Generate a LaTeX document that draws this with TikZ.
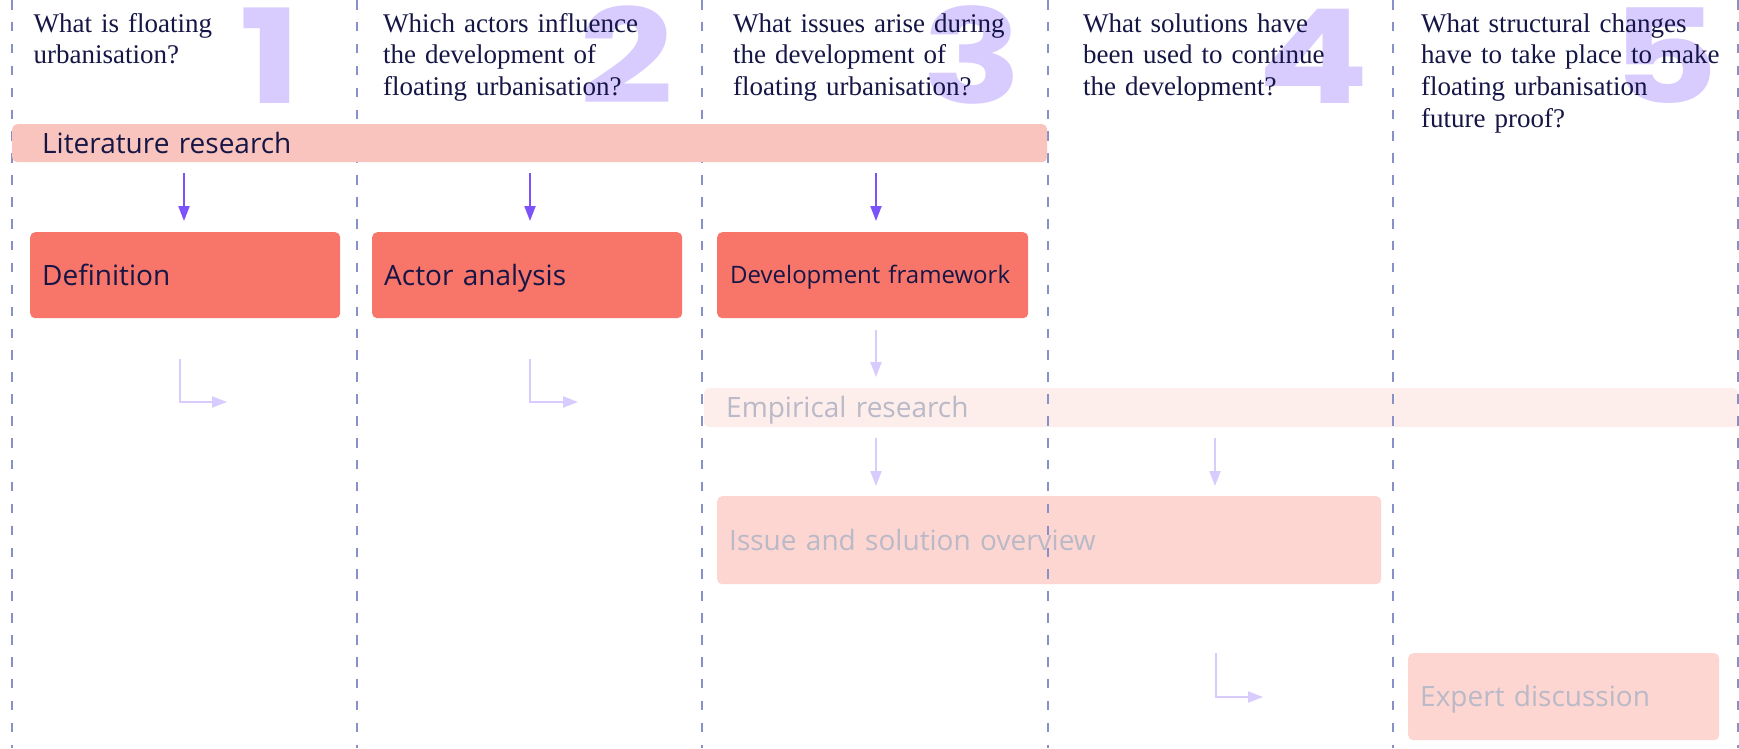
\documentclass[tikz,border=0pt]{standalone}
\usepackage{fontspec}
\usetikzlibrary{arrows.meta,positioning}
\newfontfamily\boxfont{Open Sans}
\newfontfamily\numfont{Poppins}
\newfontfamily\domfont{Liberation Serif}

\definecolor{navy}{RGB}{22,22,70}
\definecolor{griglia}{RGB}{136,144,200}
\definecolor{rosa}{RGB}{249,196,189}
\definecolor{corallo}{RGB}{248,117,105}
\definecolor{viola}{RGB}{124,82,250}
\definecolor{lilla}{RGB}{216,204,255}

\tikzset{
  cifra/.style={anchor=base, inner sep=0pt, text=lilla,
    font=\numfont\bfseries\fontsize{131}{131}\selectfont},
  domanda/.style={anchor=base west, inner sep=0pt, align=left, text width=330pt,
    text=navy, font=\domfont\fontsize{27}{31.7}\selectfont},
  blocco/.style={anchor=north west, rounded corners=5pt, fill=corallo, text=navy,
    inner xsep=12pt, inner ysep=0pt, minimum height=86pt, align=left,
    text height=20pt, text depth=0pt, font=\boxfont\fontsize{28}{34}\selectfont},
  fascia/.style={blocco, fill=rosa, minimum height=38pt},
  sbiadito/.style={text=navy!30},
  freccia/.style={draw=viola, line width=2pt, -{Triangle[length=15pt,width=11pt]}},
  sfreccia/.style={freccia, draw=viola!30},
}

\newcommand{\numero}[2]{ % #1 centro x della cifra, #2 la cifra
  \node[cifra] (n#2) at (#1,103) {\scalebox{1.26}[1]{#2}};
}

\begin{document}
\begin{tikzpicture}[x=1pt, y=-1pt]
    \useasboundingbox (0,0) rectangle (1739,748);
    \fill[white] (0,0) rectangle (1739,748);

    % parte sbiadita
    \node[fascia, fill=rosa!30, sbiadito, inner xsep=22pt, text width=990pt, minimum height=39pt] (emp) at (704,388) {Empirical research};
    \node[blocco, fill=corallo!30, sbiadito, text width=640pt, minimum height=88pt] (issue) at (717,496) {Issue and solution overview};
    \node[blocco, fill=corallo!30, sbiadito, text width=287pt, minimum height=87pt] (expert) at (1408,653) {Expert discussion};

    \coordinate (x1) at (184,0);
    \coordinate (x2) at (530,0);
    \coordinate (x3) at (876,0);
    \coordinate (x4) at (1215,0);
    \coordinate (a1) at (180,0);
    \coordinate (a2) at (530,0);
    \coordinate (a4) at (1216,0);
    \coordinate (f1) at (227,402);
    \coordinate (f2) at (578,402);
    \coordinate (f4) at (1263,697);

    \foreach \x in {12,357,702,1048,1393,1738} {
        \draw[griglia, line width=1.3pt, dash pattern=on 9.5pt off 12.4pt] (\x,0) -- (\x,748);
    }

    % parte in evidenza
    \node[fascia, inner xsep=30pt, text width=975pt] (lit) at (12,124) {Literature research};
    \node[blocco, text width=286pt] (def) at (30,232) {Definition};
    \node[blocco, text width=286pt] (actor) at (372,232) {Actor analysis};
    \node[blocco, inner xsep=13pt, text width=285pt, text height=17pt,
          font=\boxfont\fontsize{24}{30}\selectfont] (dev) at (717,232) {Development framework};

    \draw[freccia, shorten <=11pt, shorten >=11pt] (x1 |- lit.south) -- (x1 |- def.north);
    \draw[freccia, shorten <=11pt, shorten >=11pt] (x2 |- lit.south) -- (x2 |- actor.north);
    \draw[freccia, shorten <=11pt, shorten >=11pt] (x3 |- lit.south) -- (x3 |- dev.north);

    \draw[sfreccia, shorten <=12pt, shorten >=11pt] (x3 |- dev.south) -- (x3 |- emp.north);
    \draw[sfreccia, shorten <=11pt, shorten >=10pt] (x3 |- emp.south) -- (x3 |- issue.north);
    \draw[sfreccia, shorten <=11pt, shorten >=10pt] (x4 |- emp.south) -- (x4 |- issue.north);
    \draw[sfreccia, shorten <=41pt] (a1 |- def.south) |- (f1);
    \draw[sfreccia, shorten <=41pt] (a2 |- actor.south) |- (f2);
    \draw[sfreccia, shorten <=69pt] (a4 |- issue.south) |- (f4);

    \numero{271}{1}
    \numero{627}{2}
    \numero{972}{3}
    \numero{1313}{4}
    \numero{1665}{5}

    \node[domanda] (q1) at (33.5,32) {What is floating\\urbanisation?};
    \node[domanda] (q2) at (383,32) {Which actors influence\\the development of\\floating urbanisation?};
    \node[domanda] (q3) at (733,32) {What issues arise during\\the development of\\floating urbanisation?};
    \node[domanda] (q4) at (1083,32) {What solutions have\\been used to continue\\the development?};
    \node[domanda] (q5) at (1421,32) {What structural changes\\have to take place to make\\floating urbanisation\\future proof?};
\end{tikzpicture}
\end{document}
